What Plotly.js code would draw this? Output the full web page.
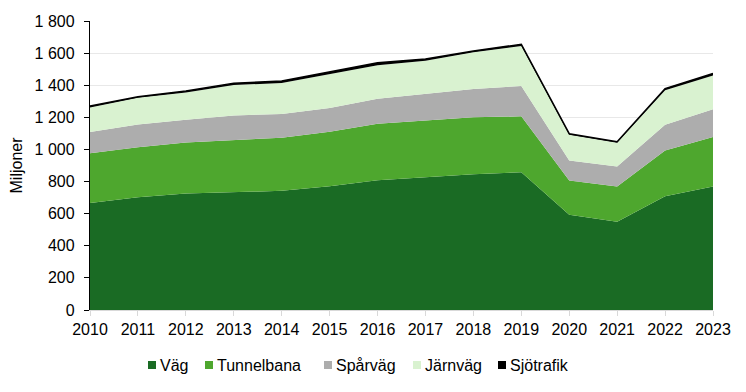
<!DOCTYPE html>
<html>
<head>
<meta charset="utf-8">
<script src="https://cdn.plot.ly/plotly-3.0.1.min.js"></script>
<style>html,body{margin:0;padding:0;background:#fff;}#chart{width:746px;height:392px;}</style>
</head>
<body>
<div id="chart"></div>
<script>
const years = [2010,2011,2012,2013,2014,2015,2016,2017,2018,2019,2020,2021,2022,2023];
const vag = [667,702,725,733,742,771,808,827,846,858,594,549,709,769];
const tunnelbana = [310,312,319,325,331,339,352,354,354,348,213,220,285,308];
const sparvag = [131,142,141,154,147,148,156,166,176,189,124,125,160,173];
const jarnvag = [154,166,169,189,194,209,208,205,229,250,161,148,214,210];
const sjotrafik = [8,6,10,12,12,14,16,11,8,10,6,6,11,13];

const names = ['Väg','Tunnelbana','Spårväg','Järnväg','Sjötrafik'];
const series = [vag, tunnelbana, sparvag, jarnvag, sjotrafik];
const colors = ['#1a6b24','#4ea72e','#adadad','#d9f2d0','#000000'];

const traces = series.map((s,i) => ({
  type:'scatter', mode:'lines', x:years, y:s, name:names[i],
  stackgroup:'one', fillcolor:colors[i],
  line:{width: i===4 ? 1.5 : 0, color: colors[i]},
  showlegend:false, hoverinfo:'skip'
}));

// custom legend (pixel layout converted to paper coords)
const plotL = 90, plotW = 623, plotT = 21, plotH = 289;
const legendSquareX = [148, 205, 324, 413, 498];
const px2x = p => (p - plotL) / plotW;
const py2y = p => (plotT + plotH - p) / plotH;
const shapes = [], annotations = [];
names.forEach((n,i) => {
  const x0 = legendSquareX[i];
  shapes.push({type:'rect', xref:'paper', yref:'paper',
    x0:px2x(x0), x1:px2x(x0+8), y0:py2y(369), y1:py2y(361),
    fillcolor:colors[i], line:{width:0}});
  annotations.push({xref:'paper', yref:'paper', x:px2x(x0+10), y:py2y(365),
    xanchor:'left', yanchor:'middle', text:n, showarrow:false,
    font:{size:16, color:'#000'}});
});

const layout = {
  width:746, height:392,
  margin:{l:90, r:33, t:21, b:82},
  paper_bgcolor:'#fff', plot_bgcolor:'#fff',
  font:{family:'Liberation Sans, Arial, sans-serif', size:16, color:'#000'},
  separators:', ',
  xaxis:{
    range:[2010,2023], tickvals:years, ticktext:years.map(String),
    showgrid:false, showline:true, linecolor:'#d9d9d9', linewidth:1,
    ticks:'outside', ticklen:5, tickcolor:'#d9d9d9', zeroline:false,
    tickfont:{size:16}, automargin:false
  },
  yaxis:{
    range:[0,1800], dtick:200, tickformat:',d',
    showgrid:true, gridcolor:'#e8e8e8', gridwidth:1,
    showline:true, linecolor:'#000', linewidth:1.2,
    ticks:'outside', ticklen:5, tickcolor:'#000', zeroline:false,
    ticklabelstandoff:6,
    title:{text:'Miljoner', font:{size:16}, standoff:8},
    tickfont:{size:16}, automargin:false
  },
  shapes: shapes,
  annotations: annotations,
  showlegend:false
};
Plotly.newPlot('chart', traces, layout, {staticPlot:true});
</script>
</body>
</html>
